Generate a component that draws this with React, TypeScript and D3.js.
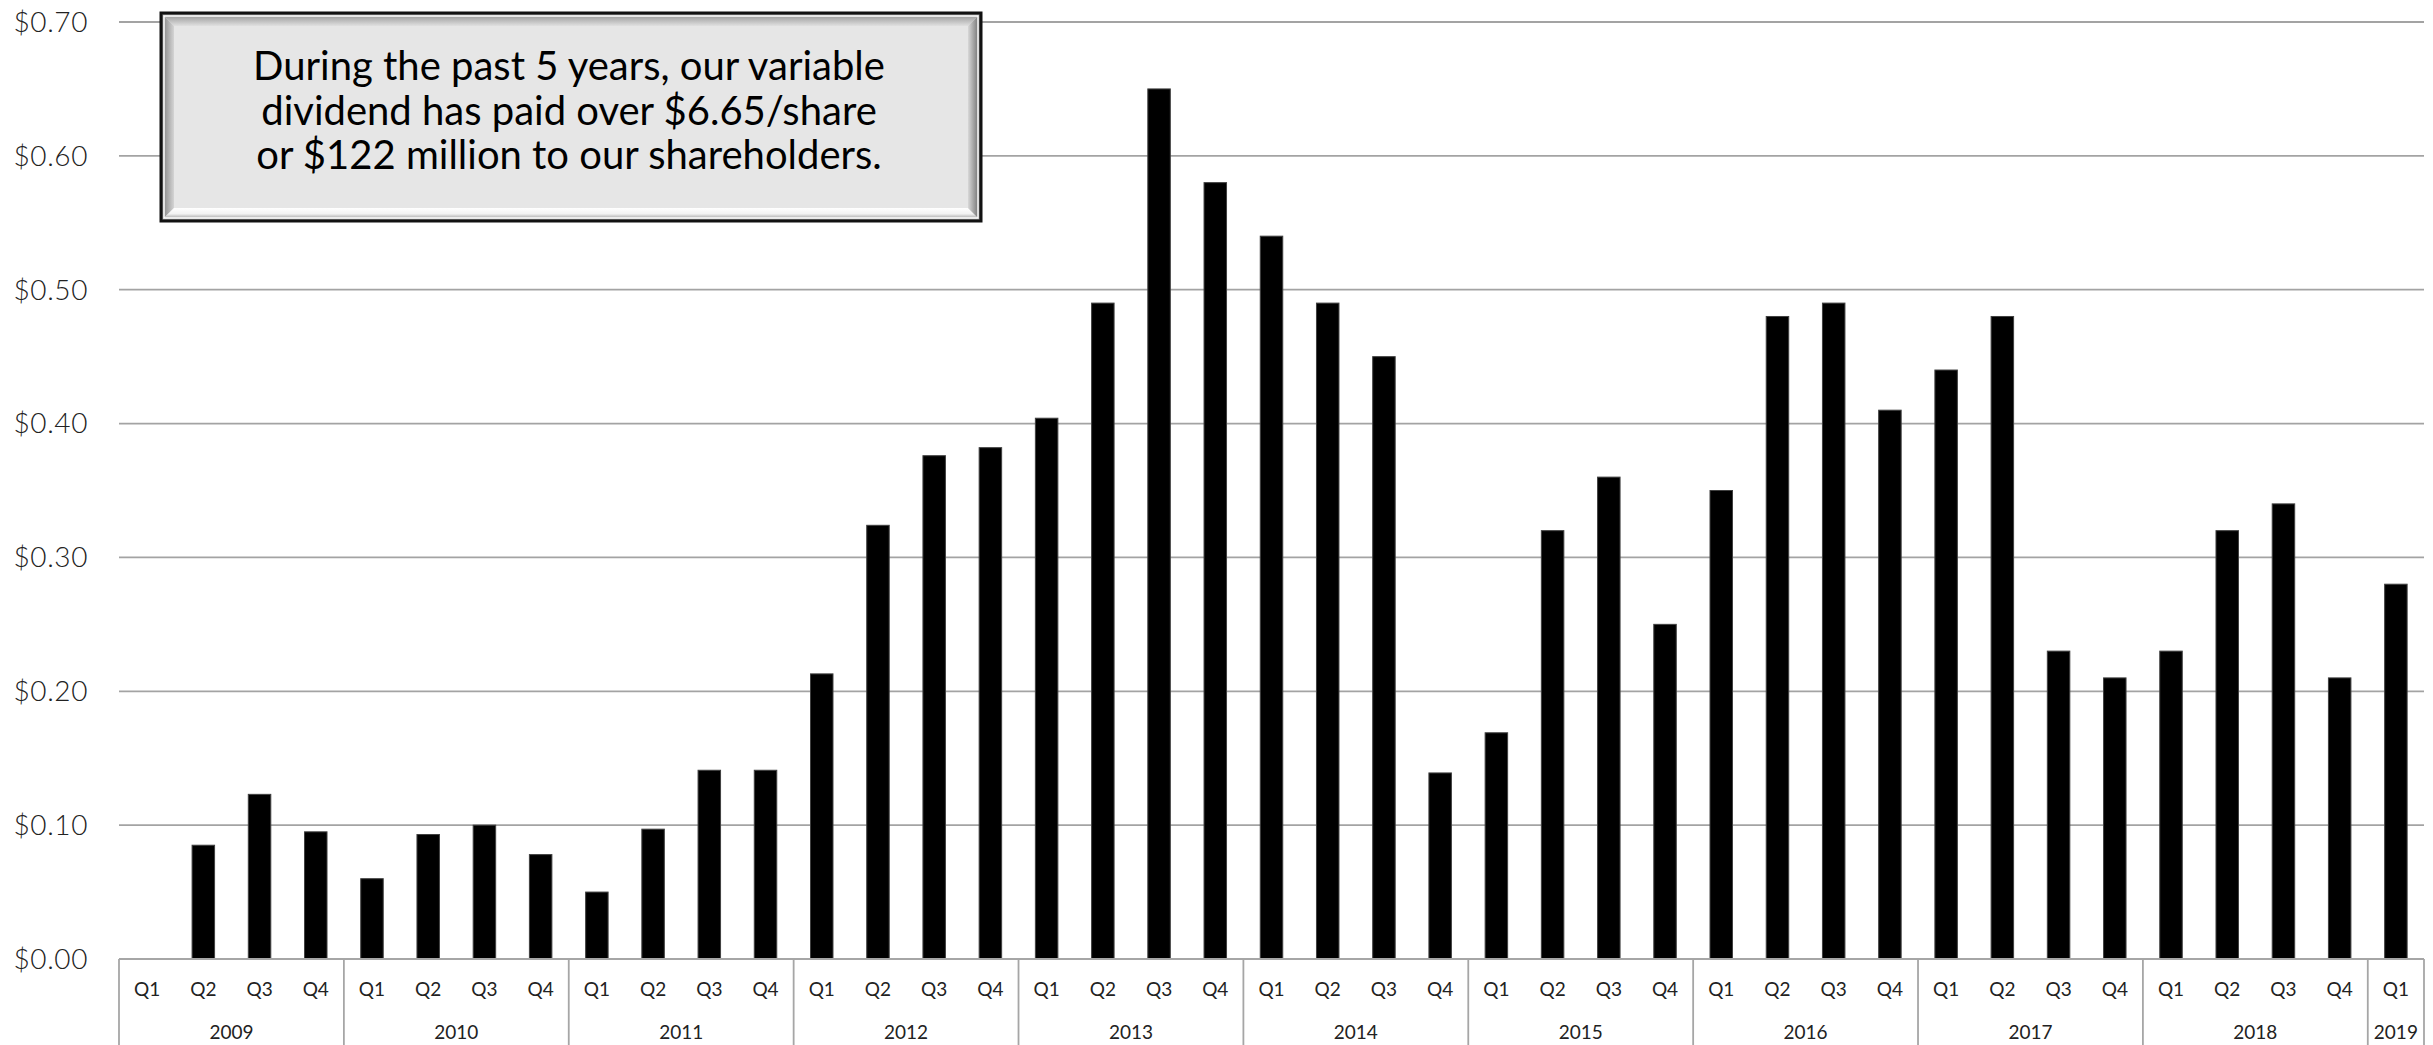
import React from "react";
import * as d3 from "d3";

const years = ["2009", "2010", "2011", "2012", "2013", "2014", "2015", "2016", "2017", "2018", "2019"];
const quartersPerYear = [4, 4, 4, 4, 4, 4, 4, 4, 4, 4, 1];
const quarterLabels = ["Q1", "Q2", "Q3", "Q4"];
const dividends: (number | null)[] = [
  null, 0.085, 0.123, 0.095,
  0.06, 0.093, 0.1, 0.078,
  0.05, 0.097, 0.141, 0.141,
  0.213, 0.324, 0.376, 0.382,
  0.404, 0.49, 0.65, 0.58,
  0.54, 0.49, 0.45, 0.139,
  0.169, 0.32, 0.36, 0.25,
  0.35, 0.48, 0.49, 0.41,
  0.44, 0.48, 0.23, 0.21,
  0.23, 0.32, 0.34, 0.21,
  0.28,
];
const yTicks = [0, 0.1, 0.2, 0.3, 0.4, 0.5, 0.6, 0.7];
const calloutLines = [
  "During the past 5 years, our variable",
  "dividend has paid over $6.65/share",
  "or $122 million to our shareholders.",
];

const W = 2433;
const H = 1045;
const M = { left: 119, right: 2424, top: 22, bottom: 959 };

export default function App() {
  const cats: { year: string; q: string; value: number | null; idx: number }[] = [];
  let k = 0;
  years.forEach((y, yi) => {
    for (let i = 0; i < quartersPerYear[yi]; i++) {
      cats.push({ year: y, q: quarterLabels[i], value: dividends[k], idx: k });
      k++;
    }
  });

  const x = d3
    .scaleBand<number>()
    .domain(cats.map((c) => c.idx))
    .range([M.left, M.right])
    .paddingInner(0.6)
    .paddingOuter(0.3);
  const step = x.step();
  const y = d3.scaleLinear().domain([0, 0.7]).range([M.bottom, M.top]);
  const fmt = d3.format("$.2f");

  const boundaries: number[] = [M.left];
  let acc = 0;
  const yearSpans = years.map((yr, yi) => {
    const start = M.left + acc * step;
    acc += quartersPerYear[yi];
    const end = M.left + acc * step;
    boundaries.push(end);
    return { yr, start, end };
  });

  const bx0 = 161, by0 = 13, bx1 = 981, by1 = 221;
  const bev = 13;
  const ix0 = bx0 + bev, iy0 = by0 + bev, ix1 = bx1 - bev, iy1 = by1 - bev;

  return (
    <div style={{ position: "absolute", left: 0, top: 0 }}>
      <svg width={W} height={H} style={{ display: "block", background: "#fff" }}>
        <defs>
          <linearGradient id="gTop" x1="0" y1="0" x2="0" y2="1">
            <stop offset="0" stopColor="#8a8a8a" />
            <stop offset="1" stopColor="#e0e0e0" />
          </linearGradient>
          <linearGradient id="gLeft" x1="0" y1="0" x2="1" y2="0">
            <stop offset="0" stopColor="#7a7a7a" />
            <stop offset="1" stopColor="#d4d4d4" />
          </linearGradient>
          <linearGradient id="gBottom" x1="0" y1="0" x2="0" y2="1">
            <stop offset="0" stopColor="#ffffff" />
            <stop offset="0.45" stopColor="#f2f2f2" />
            <stop offset="1" stopColor="#7a7a7a" />
          </linearGradient>
          <linearGradient id="gRight" x1="0" y1="0" x2="1" y2="0">
            <stop offset="0" stopColor="#d8d8d8" />
            <stop offset="1" stopColor="#5e5e5e" />
          </linearGradient>
        </defs>

        {yTicks.filter((t) => t > 0).map((t) => (
          <line key={t} x1={M.left} x2={M.right} y1={y(t)} y2={y(t)} stroke="#a3a3a3" strokeWidth={1.8} />
        ))}

        {yTicks.map((t) => (
          <text
            key={"l" + t}
            x={88}
            y={y(t)}
            dy="0.35em"
            textAnchor="end"
            fontFamily="Lato"
            fontWeight={300}
            fontSize={28}
            letterSpacing={0.6}
            fill="#222"
          >
            {fmt(t)}
          </text>
        ))}

        {cats.map((c) =>
          c.value == null ? null : (
            <rect
              key={c.idx}
              x={x(c.idx)}
              y={y(c.value)}
              width={x.bandwidth()}
              height={y(0) - y(c.value)}
              fill="#000"
              stroke="#404040"
              strokeWidth={1}
            />
          )
        )}

        <line x1={M.left} x2={M.right} y1={M.bottom} y2={M.bottom} stroke="#a6a6a6" strokeWidth={2} />
        {boundaries.map((b, i) => (
          <line key={"b" + i} x1={b} x2={b} y1={M.bottom} y2={H} stroke="#a6a6a6" strokeWidth={1.8} />
        ))}
        {cats.map((c) => (
          <text
            key={"q" + c.idx}
            x={(x(c.idx) as number) + x.bandwidth() / 2}
            y={996}
            textAnchor="middle"
            fontFamily="Lato"
            fontSize={19}
            fill="#222"
          >
            {c.q}
          </text>
        ))}
        {yearSpans.map((s) => (
          <text
            key={"y" + s.yr}
            x={(s.start + s.end) / 2}
            y={1039}
            textAnchor="middle"
            fontFamily="Lato"
            fontSize={19}
            fill="#222"
          >
            {s.yr}
          </text>
        ))}

        <rect x={bx0} y={by0} width={bx1 - bx0} height={by1 - by0} fill="#e6e6e6" />
        <polygon points={`${bx0},${by0} ${bx1},${by0} ${ix1},${iy0} ${ix0},${iy0}`} fill="url(#gTop)" />
        <polygon points={`${bx0},${by0} ${ix0},${iy0} ${ix0},${iy1} ${bx0},${by1}`} fill="url(#gLeft)" />
        <polygon points={`${bx0},${by1} ${ix0},${iy1} ${ix1},${iy1} ${bx1},${by1}`} fill="url(#gBottom)" />
        <polygon points={`${bx1},${by0} ${bx1},${by1} ${ix1},${iy1} ${ix1},${iy0}`} fill="url(#gRight)" />
        <rect x={ix0} y={iy0} width={ix1 - ix0} height={iy1 - iy0} fill="#e6e6e6" />
        <rect x={bx0 + 3} y={by0 + 3} width={bx1 - bx0 - 6} height={by1 - by0 - 6} fill="none" stroke="#ffffff" strokeWidth={1.5} />
        <rect x={bx0} y={by0} width={bx1 - bx0} height={by1 - by0} fill="none" stroke="#111" strokeWidth={3} />
        {calloutLines.map((l, i) => (
          <text
            key={"c" + i}
            x={569}
            y={80 + i * 44.5}
            textAnchor="middle"
            fontFamily="Lato"
            fontSize={40}
            fill="#000"
          >
            {l}
          </text>
        ))}
      </svg>
    </div>
  );
}
